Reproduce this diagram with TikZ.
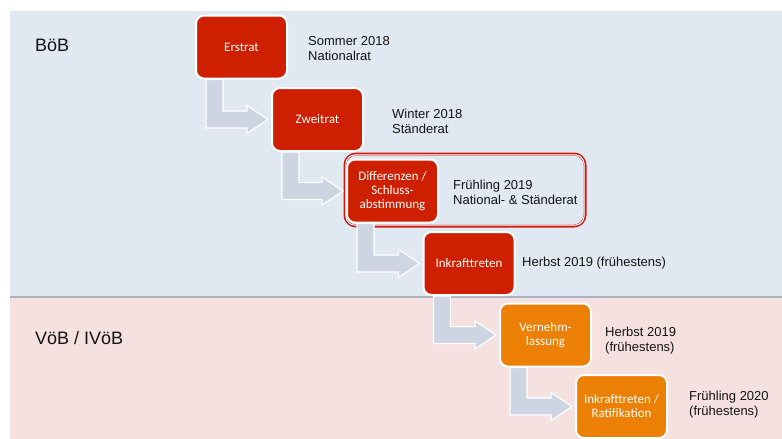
\documentclass[tikz,border=0pt]{standalone}
\usepackage{fontspec}
\setmainfont{Liberation Sans}
\newfontfamily\boxfont{Carlito}
\usetikzlibrary{calc}
\definecolor{panelblue}{RGB}{224,232,242}
\definecolor{panelpink}{RGB}{245,225,224}
\definecolor{boxred}{RGB}{206,32,0}
\definecolor{boxorange}{RGB}{236,128,4}
\definecolor{arrowfill}{RGB}{205,213,227}
\definecolor{framered}{RGB}{206,30,20}
\definecolor{shadowgrey}{RGB}{170,180,192}
\definecolor{textdark}{RGB}{20,20,20}
\pgfdeclarelayer{bg}
\pgfdeclarelayer{arrows}
\pgfsetlayers{bg,arrows,main}
\newcommand{\bentflow}[2]{%
  \path[flow] let \p1=(#1.south west), \p2=(#2.west) in
    (\x1+11pt,\y1) -- (\x1+28pt,\y1) -- (\x1+28pt,\y2+8.5pt) -- (\x2-24pt,\y2+8.5pt)
    -- (\x2-24pt,\y2+14pt) -- (\x2-3pt,\y2) -- (\x2-24pt,\y2-14pt) -- (\x2-24pt,\y2-8.5pt)
    -- (\x1+11pt,\y2-8.5pt) -- cycle;}
\begin{document}
\begin{tikzpicture}[x=1pt,y=1pt,
  stage/.style={rounded corners=8pt, draw=white, line width=2pt, minimum width=91pt,
    minimum height=63pt, inner sep=2pt, align=center, text=white,
    font=\boxfont\fontsize{13}{14}\selectfont},
  redstage/.style={stage, fill=boxred},
  orangestage/.style={stage, fill=boxorange},
  info/.style={anchor=west, align=left, inner sep=0pt, text=textdark,
    font=\fontsize{13}{15}\selectfont},
  paneltitle/.style={anchor=west, inner sep=0pt, text=textdark,
    font=\fontsize{18}{20}\selectfont},
  groupframe/.style={rounded corners=11pt, draw=framered, line width=3pt,
    minimum width=240pt, minimum height=72pt, inner sep=0pt},
  flow/.style={fill=arrowfill, draw=white, line width=1.2pt, line join=miter}]
\useasboundingbox (0,0) rectangle (782,-439);

% stages
\node[redstage] (erst) at (241.5,-47) {Erstrat};
\node[redstage] (zweit) at (317.5,-119.5) {Zweitrat};
\node[redstage] (diff) at (392.5,-191) {Differenzen /\\Schluss-\\abstimmung};
\node[redstage] (inkr) at (469,-263.5) {Inkrafttreten};
\node[orangestage] (vern) at (545.5,-335) {Vernehm-\\lassung};
\node[orangestage] (rat) at (621.5,-406.5) {Inkrafttreten /\\Ratifikation};

% side texts
\node[info] (t1) at (308,-48.5) {Sommer 2018\\Nationalrat};
\node[info] (t2) at (392,-121) {Winter 2018\\Ständerat};
\node[info] (t3) at (453,-192) {Frühling 2019\\National- \& Ständerat};
\node[info] (t4) at (522,-263) {Herbst 2019 (frühestens)};
\node[info] (t5) at (605,-341) {Herbst 2019\\(frühestens)};
\node[info] (t6) at (689,-405) {Frühling 2020\\(frühestens)};

% panel titles
\node[paneltitle] (boeb) at (35,-45) {BöB};
\node[paneltitle] (voeb) at (35,-338) {VöB / IVöB};

\begin{pgfonlayer}{bg}
  \fill[panelblue] (10,-11) rectangle (782,-297);
  \fill[panelpink] (10,-297) rectangle (782,-439);
  \draw[shadowgrey, line width=1.5pt] (10,-297) -- (782,-297);
  \node[groupframe] (grp) at (465,-190) {};
  \draw[white, line width=1pt, rounded corners=9pt]
    ($(grp.south west)+(2.4,2.4)$) rectangle ($(grp.north east)+(-2.4,-2.4)$);
\end{pgfonlayer}

\begin{pgfonlayer}{arrows}
  \bentflow{erst}{zweit}
  \bentflow{zweit}{diff}
  \bentflow{diff}{inkr}
  \bentflow{inkr}{vern}
  \bentflow{vern}{rat}
\end{pgfonlayer}
\end{tikzpicture}
\end{document}
